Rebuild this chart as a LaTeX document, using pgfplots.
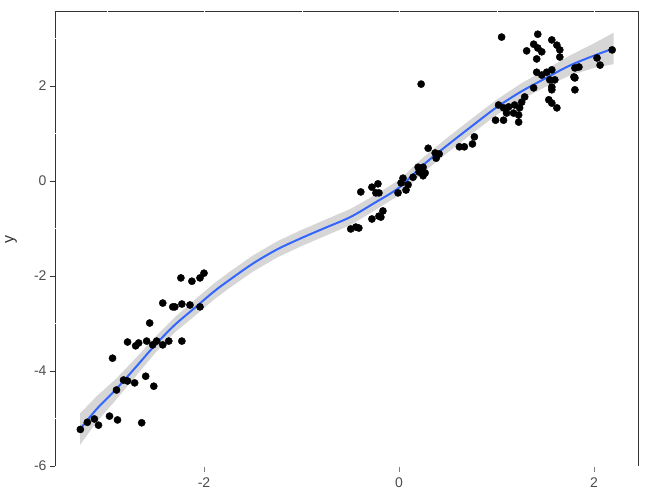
\documentclass[border=0pt]{standalone}
\usepackage{pgfplots}
\pgfplotsset{compat=1.18}
\usepackage{pgfplotstable}
\usepackage{fontspec}
\setmainfont{Liberation Sans}
\definecolor{smooth}{HTML}{3366FF}
\definecolor{axgray}{HTML}{333333}
\definecolor{lblgray}{HTML}{4D4D4D}

\pgfplotstableread{
x y
-3.268 -5.23
-3.196 -5.08
-3.124 -5.01
-3.082 -5.14
-2.969 -4.95
-2.887 -5.03
-2.639 -5.09
-2.897 -4.40
-2.825 -4.19
-2.784 -4.21
-2.711 -4.25
-2.598 -4.11
-2.515 -4.32
-2.938 -3.73
-2.784 -3.39
-2.701 -3.47
-2.670 -3.41
-2.588 -3.37
-2.526 -3.45
-2.485 -3.37
-2.423 -3.45
-2.361 -3.37
-2.227 -3.37
-2.557 -2.99
-2.423 -2.57
-2.320 -2.65
-2.299 -2.65
-2.227 -2.59
-2.144 -2.61
-2.041 -2.65
-2.237 -2.04
-2.124 -2.11
-2.041 -2.04
-2.000 -1.94
-0.495 -1.01
-0.443 -0.97
-0.412 -0.99
-0.392 -0.23
-0.278 -0.13
-0.216 -0.06
-0.237 -0.25
-0.206 -0.25
-0.278 -0.80
-0.206 -0.74
-0.165 -0.63
-0.186 -0.76
-0.010 -0.25
0.021 -0.04
0.041 0.06
0.072 -0.19
0.093 -0.08
0.144 0.08
0.196 0.29
0.206 0.19
0.247 0.11
0.268 0.17
0.247 0.29
0.227 2.04
0.299 0.69
0.381 0.48
0.371 0.59
0.412 0.57
0.619 0.72
0.670 0.72
0.753 0.78
0.773 0.93
1.052 3.03
1.423 3.09
1.309 2.74
1.381 2.88
1.423 2.80
1.464 2.72
1.412 2.57
1.567 2.97
1.619 2.86
1.649 2.76
1.649 2.61
1.412 2.29
1.464 2.23
1.515 2.29
1.567 2.34
1.598 2.13
1.546 2.13
1.567 1.98
1.567 1.92
1.381 1.96
1.289 1.77
1.258 1.66
1.237 1.54
1.186 1.60
1.124 1.56
1.072 1.54
1.021 1.60
1.103 1.43
1.175 1.43
1.227 1.39
1.227 1.24
1.072 1.28
0.990 1.28
1.536 1.71
1.567 1.64
1.619 1.54
1.804 2.38
1.845 2.40
1.794 2.19
1.804 2.17
1.804 1.92
2.031 2.59
2.062 2.44
2.186 2.76
}\pts

\pgfplotstableread{
x y
-3.27 -5.22
-3.10 -4.80
-2.90 -4.38
-2.70 -3.92
-2.50 -3.45
-2.30 -3.03
-2.10 -2.68
-1.90 -2.33
-1.75 -2.10
-1.50 -1.74
-1.25 -1.44
-1.00 -1.20
-0.75 -0.98
-0.50 -0.76
-0.25 -0.46
0.00 -0.14
0.25 0.34
0.50 0.76
0.75 1.16
1.00 1.55
1.25 1.88
1.50 2.16
1.75 2.43
2.00 2.64
2.20 2.79
}\fit

\pgfplotstableread{
x y
-3.27 -4.89
-3.10 -4.53
-2.90 -4.16
-2.70 -3.73
-2.50 -3.28
-2.30 -2.87
-2.10 -2.51
-1.90 -2.16
-1.75 -1.93
-1.50 -1.57
-1.25 -1.27
-1.00 -1.03
-0.75 -0.81
-0.50 -0.59
-0.25 -0.30
0.00 0.02
0.25 0.50
0.50 0.92
0.75 1.32
1.00 1.71
1.25 2.05
1.50 2.34
1.75 2.64
2.00 2.90
2.20 3.12
2.20 2.46
2.00 2.38
1.75 2.22
1.50 1.98
1.25 1.71
1.00 1.39
0.75 1.00
0.50 0.60
0.25 0.18
0.00 -0.30
-0.25 -0.62
-0.50 -0.93
-0.75 -1.15
-1.00 -1.37
-1.25 -1.61
-1.50 -1.91
-1.75 -2.27
-1.90 -2.50
-2.10 -2.85
-2.30 -3.19
-2.50 -3.62
-2.70 -4.11
-2.90 -4.60
-3.10 -5.07
-3.27 -5.55
}\band

\begin{document}
\begin{tikzpicture}
\useasboundingbox (-55pt,-24pt) rectangle (595pt,466pt);
\begin{axis}[
  at={(0,0)}, anchor=south west,
  scale only axis,
  width=583pt, height=454pt,
  xmin=-3.528, xmax=2.451,
  ymin=-6, ymax=3.558,
  axis line style={draw=none},
  xtick={-2,0,2}, ytick={-6,-4,-2,0,2},
  tick align=outside,
  xtick pos=bottom, ytick pos=left,
  major tick length=5pt,
  x tick style={gray, line width=0.8pt, yshift=-1pt},
  y tick style={axgray, line width=0.8pt},
  tick label style={font=\fontsize{14}{16}\selectfont, text=lblgray},
  /pgf/number format/assume math mode=true,
  xticklabel style={yshift=-3pt},
  ylabel={y},
  every axis y label/.style={at={(rel axis cs:0,0.5)}, xshift=-44pt, rotate=90, anchor=center, font=\fontsize{16}{18}\selectfont, text=axgray},
  clip=false,
]
\addplot[only marks, mark=*, mark size=3.6pt, mark options={fill=black, draw=black}] table[x=x, y=y] {\pts};
\addplot[draw=none, fill=black!40, fill opacity=0.4] table[x=x, y=y] {\band} -- cycle;
\addplot[smooth, color=smooth, line width=2pt] table[x=x, y=y] {\fit};
\end{axis}
\draw[axgray, line width=1pt] (0,0) -- (0,454pt) -- (583pt,454pt) -- (583pt,0);
% white grid lines crossing the panel border
\foreach \px in {52.3,149.8,247.3,344.8,442.3,539.8}
  \draw[white, line width=1.2pt] (\px pt,452pt) -- (\px pt,456pt);
\foreach \py in {427.5,332.5,237.5,142.5,47.5}
  \draw[white, line width=1.2pt] (-2pt,\py pt) -- (2pt,\py pt);
\end{tikzpicture}
\end{document}
